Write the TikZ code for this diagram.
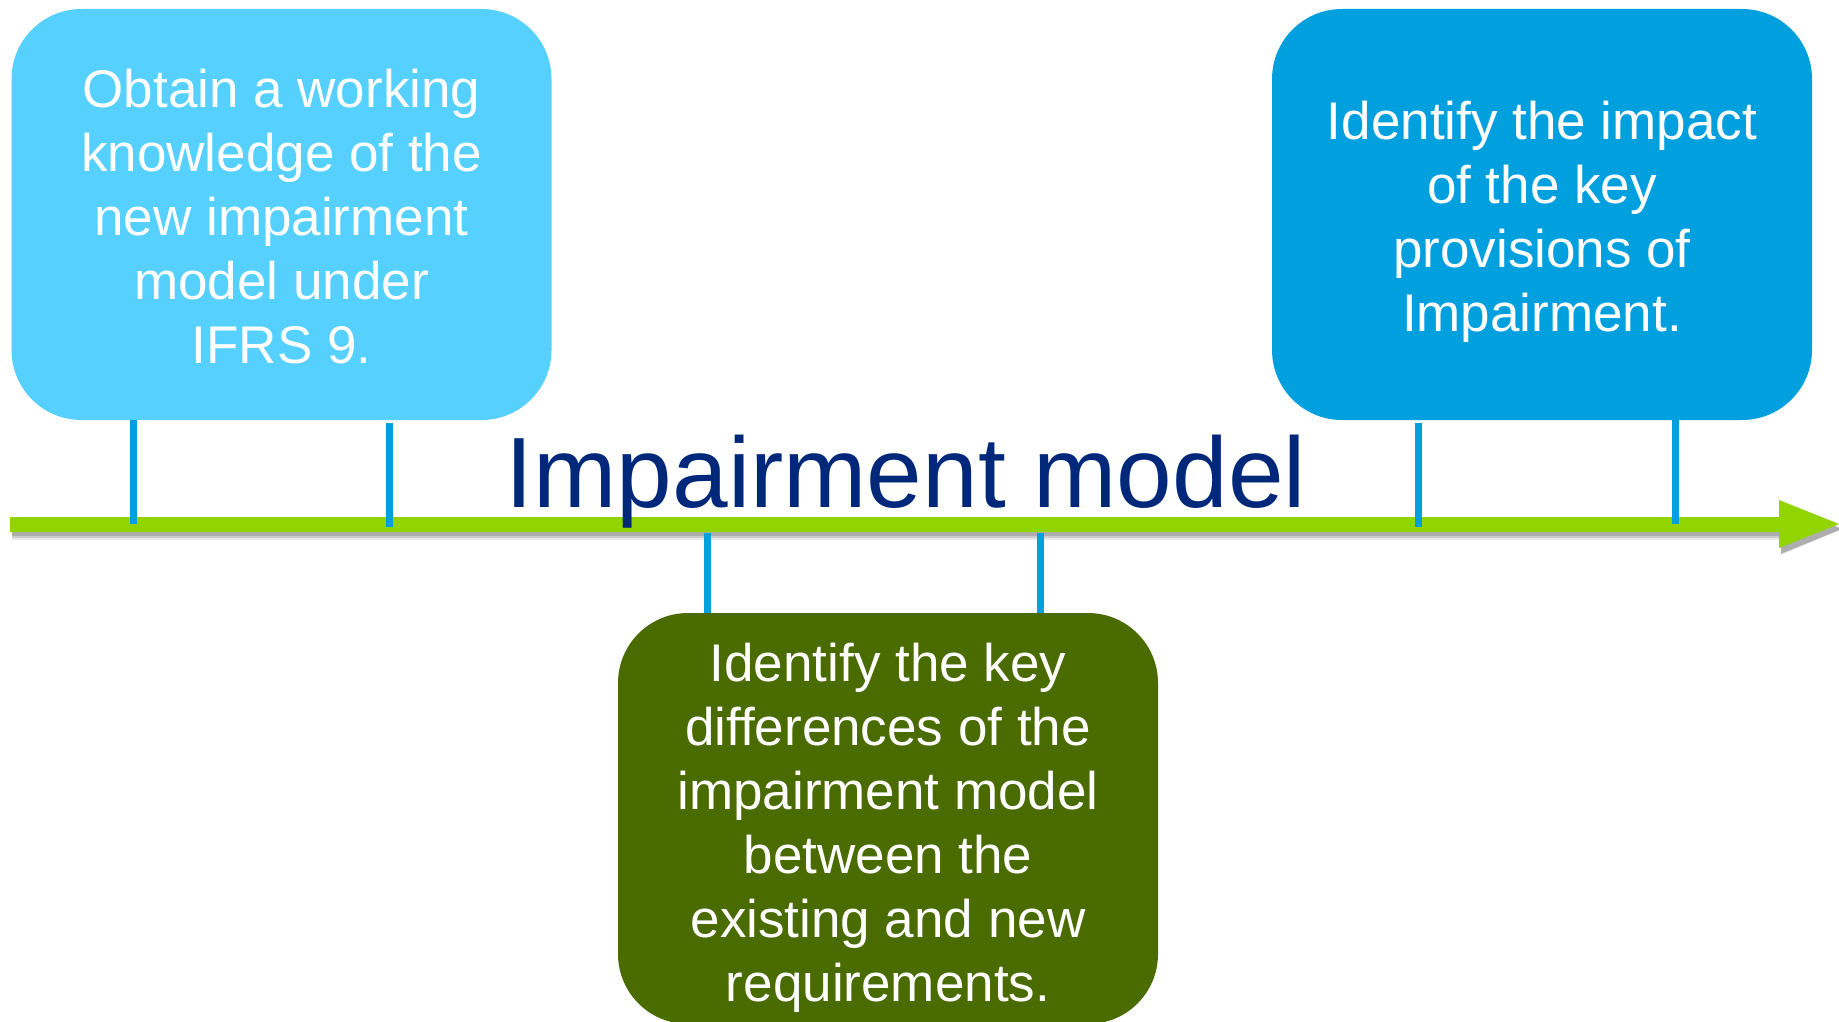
\documentclass[tikz,border=0pt]{standalone}
\usepackage{fontspec}
\setmainfont{Liberation Sans}
\definecolor{boxA}{HTML}{55D0FF}
\definecolor{boxB}{HTML}{00A0DF}
\definecolor{boxC}{HTML}{4A6B00}
\definecolor{tickc}{HTML}{00A0DF}
\definecolor{linec}{HTML}{92D400}
\definecolor{navy}{HTML}{00287A}
\tikzset{
  card/.style={rounded corners=70pt, minimum width=540pt, minimum height=411pt,
    inner sep=0pt},
  cardtext/.style={inner sep=0pt, align=center, text=white,
    font=\fontsize{53}{64}\selectfont},
  tickline/.style={draw=tickc, line width=7pt},
}
\begin{document}
\begin{tikzpicture}[x=1pt,y=-1pt]
\useasboundingbox (0,0) rectangle (1839,1022);
\clip (0,0) rectangle (1839,1022);
% axis shadow (soft)
\foreach \d/\o in {6/0.08,4/0.12,2/0.16}{
  \fill[black,opacity=\o] (12,{522+\d*0.3}) -- (1781,{522+\d*0.3}) -- (1781,{504-\d*0.2}) -- ({1841+\d*0.3},529) -- (1781,{553+\d*0.3}) -- (1781,{534+\d}) -- (12,{534+\d}) -- cycle;
}
% axis
\coordinate (axs) at (10,524);
\coordinate (axe) at (1839,524);
\fill[linec] (10,517) -- (1779,517) -- (1779,500) -- (axe) -- (1779,548) -- (1779,532) -- (10,532) -- cycle;
% boxes
\node[card, fill=boxA] (b1) at (281.5,214.5) {};
\node[card, fill=boxB] (b2) at (1542,214.5) {};
\node[card, fill=boxC] (b3) at (888,818.5) {};
\node[cardtext] (t1) at ([yshift=-2pt]b1.center) {Obtain a working\\knowledge of the\\new impairment\\model under\\IFRS 9.};
\node[cardtext] (t2) at ([yshift=-7pt]b2.center) {Identify the impact\\of the key\\provisions of\\Impairment.};
\node[cardtext] (t3) at ([yshift=-9pt]b3.center) {Identify the key\\differences of the\\impairment model\\between the\\existing and new\\requirements.};
% tick end points on the axis
\coordinate (p1) at (133,524);
\coordinate (p2) at (389,527);
\coordinate (p3) at (1418,527);
\coordinate (p4) at (1675,524);
\coordinate (p5) at (707,533);
\coordinate (p6) at (1040,533);
\draw[tickline] (b1.south -| p1) -- (p1);
\draw[tickline] ([yshift=-3pt]b1.south -| p2) -- (p2);
\draw[tickline] ([yshift=-3pt]b2.south -| p3) -- (p3);
\draw[tickline] (b2.south -| p4) -- (p4);
\draw[tickline] (p5) -- (b3.north -| p5);
\draw[tickline] (p6) -- (b3.north -| p6);
% title
\node[anchor=base, text=navy, font=\fontsize{100}{110}\selectfont, inner sep=0pt] (title) at (906,507) {Impairment model};
\end{tikzpicture}
\end{document}
